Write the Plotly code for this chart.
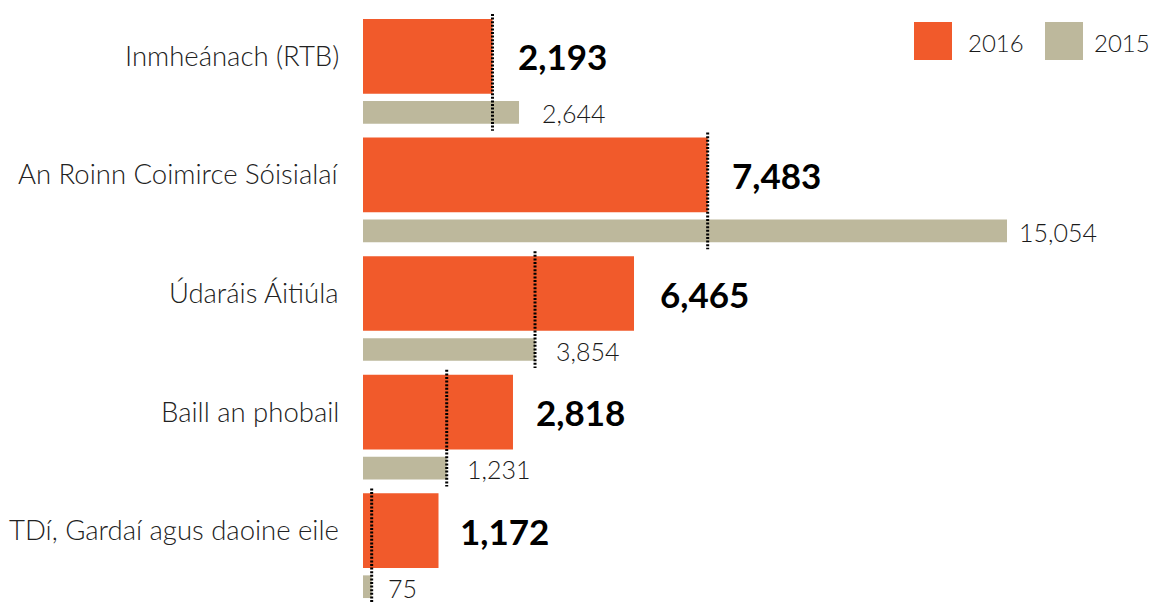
import plotly.graph_objects as go

# ---- data ----
categories = [
    "Inmheánach (RTB)",
    "An Roinn Coimirce Sóisialaí",
    "Údaráis Áitiúla",
    "Baill an phobail",
    "TDí, Gardaí agus daoine eile",
]
# values printed next to the bars
labels_2016 = ["2,193", "7,483", "6,465", "2,818", "1,172"]
labels_2015 = ["2,644", "15,054", "3,854", "1,231", "75"]
# bar lengths as drawn in the picture (axis units, longest bar = 15,054)
bars_2016 = [3027, 8057, 6335, 3506, 1765]
bars_2015 = [3647, 15054, 4021, 1957, 203]
series_names = ["2016", "2015"]

# label offsets from bar ends (pixels, layout tuning)
gap_2016 = [24, 22.6, 24.3, 21.3, 19]
gap_2015 = [21, 10, 18.7, 18, 14]

ORANGE = "#F15A2B"
BEIGE = "#BDB89C"
W, H = 1152, 602
FONT = "Lato"

# layout geometry (pixels)
x0_px = 363
px_per_unit = 644 / 15054
row_pitch = 118.6
first_center = 56.3
beige_offset = 56.0 / row_pitch
orange_w = 74.7 / row_pitch
beige_w = 22.7 / row_pitch

n = len(categories)
y_or = list(range(n))
y_be = [i + beige_offset for i in range(n)]

x_max = (W - x0_px) / px_per_unit
y_top = -first_center / row_pitch
y_bot = (H - first_center) / row_pitch

fig = go.Figure()
fig.add_trace(go.Bar(
    x=bars_2016, y=y_or, orientation="h", width=orange_w,
    marker=dict(color=ORANGE, line=dict(width=0)), name=series_names[0],
    hoverinfo="skip"))
fig.add_trace(go.Bar(
    x=bars_2015, y=y_be, orientation="h", width=beige_w,
    marker=dict(color=BEIGE, line=dict(width=0)), name=series_names[1],
    hoverinfo="skip"))

# dotted reference lines at the shorter bar end
for i in range(n):
    xv = min(bars_2016[i], bars_2015[i])
    fig.add_trace(go.Scatter(
        x=[xv, xv], y=[i - 42.3 / row_pitch, i + 74.4 / row_pitch],
        mode="lines", line=dict(color="black", width=3, dash="2px,1.6px"),
        showlegend=False, hoverinfo="skip"))

annotations = []
for i in range(n):
    annotations.append(dict(
        x=bars_2016[i], y=y_or[i], xref="x", yref="y", text=labels_2016[i],
        showarrow=False, xanchor="left", yanchor="middle", xshift=gap_2016[i],
        font=dict(family=FONT, size=35, color="#000", weight=700)))
    annotations.append(dict(
        x=bars_2015[i], y=y_be[i], xref="x", yref="y", text=labels_2015[i],
        showarrow=False, xanchor="left", yanchor="middle", xshift=gap_2015[i], yshift=-1,
        font=dict(family=FONT, size=25, color="#1a1a1a", weight=300)))
    annotations.append(dict(
        x=338 / W, y=y_or[i], xref="paper", yref="y", text=categories[i],
        showarrow=False, xanchor="right", yanchor="middle", xshift=3, yshift=1,
        font=dict(family=FONT, size=27.5, color="#222", weight=300)))

# legend (drawn manually for large swatches)
shapes = []
leg = [(914, 952, ORANGE, 966, series_names[0]), (1045, 1083, BEIGE, 1092, series_names[1])]
for xa, xb, col, tx, name in leg:
    shapes.append(dict(type="rect", xref="paper", yref="paper",
                       x0=xa / W, x1=xb / W, y0=1 - 60 / H, y1=1 - 22 / H,
                       fillcolor=col, line=dict(width=0)))
    annotations.append(dict(x=tx / W, y=1 - 43 / H, xref="paper", yref="paper",
                            text=name, showarrow=False, xanchor="left", yanchor="middle",
                            font=dict(family=FONT, size=24, color="#1a1a1a", weight=300)))

fig.update_layout(
    width=W, height=H,
    margin=dict(l=0, r=0, t=0, b=0),
    paper_bgcolor="white", plot_bgcolor="white",
    barmode="overlay", showlegend=False,
    xaxis=dict(domain=[x0_px / W, 1], range=[0, x_max], visible=False, fixedrange=True),
    yaxis=dict(range=[y_bot, y_top], visible=False, fixedrange=True),
    annotations=annotations, shapes=shapes,
)

fig.write_html(
    "out.html",
    config={"displayModeBar": False},
    post_script="document.body.style.margin='0';document.body.style.overflow='hidden';",
)
